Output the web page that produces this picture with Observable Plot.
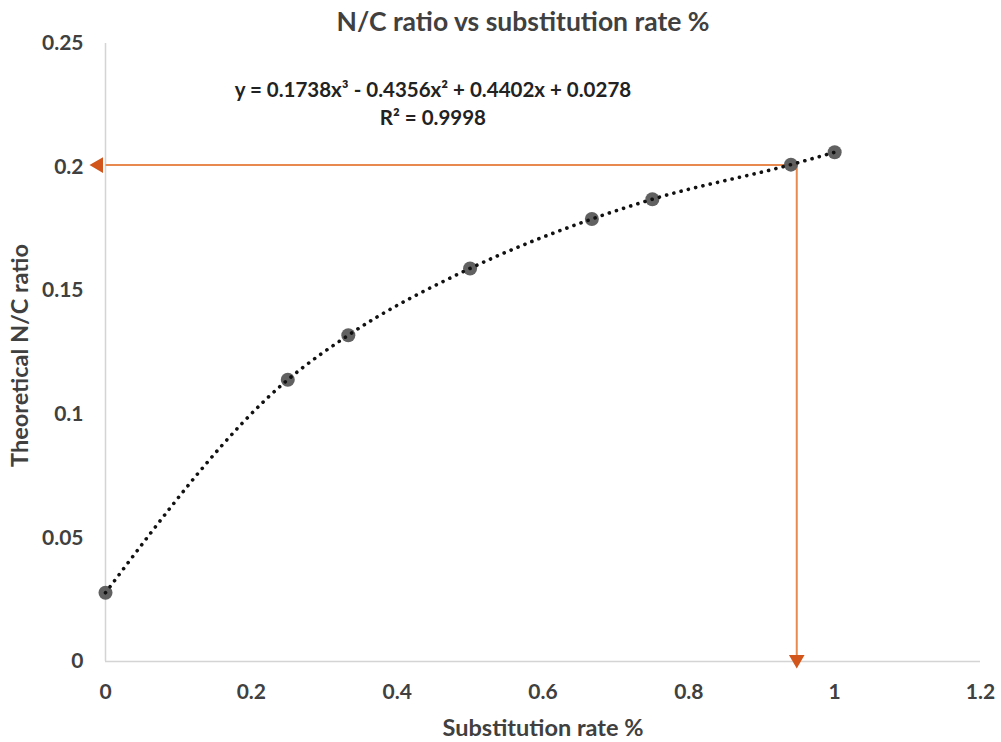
<!DOCTYPE html>
<html>
<head>
<meta charset="utf-8">
<script src="https://cdn.jsdelivr.net/npm/d3@7"></script>
<script src="https://cdn.jsdelivr.net/npm/@observablehq/plot@0.6"></script>
<style>
  html, body { margin: 0; padding: 0; background: #fff; }
  #chart svg { font-family: Lato, "Open Sans", sans-serif; }
</style>
</head>
<body>
<div id="chart"></div>
<script>
// ---- data ----
const substitutionRate = [0, 0.25, 0.333, 0.5, 0.667, 0.75, 0.94, 1];
const ncRatio = [0.0278, 0.114, 0.132, 0.159, 0.179, 0.187, 0.201, 0.206];
const xTicks = [0, 0.2, 0.4, 0.6, 0.8, 1, 1.2];
const yTicks = [0, 0.05, 0.1, 0.15, 0.2, 0.25];
const readRate = [0.948];
const readRatio = [0.2008];
const titleText = "N/C ratio vs substitution rate %";
const equationText = "y = 0.1738x³ - 0.4356x² + 0.4402x + 0.0278";
const r2Text = "R² = 0.9998";
const xLabel = "Substitution rate %";
const yLabel = "Theoretical N/C ratio";

const points = substitutionRate.map((x, i) => ({x, y: ncRatio[i]}));
const hLine = [{x1: 0, x2: readRate[0], y: readRatio[0]}];
const vLine = [{x: readRate[0], y1: readRatio[0], y2: 0}];

const orangeLine = "#E8894F";
const orangeHead = "#D2561B";
const textColor = "#404040";

const chart = Plot.plot({
  width: 1001,
  height: 742,
  marginLeft: 105,
  marginRight: 21,
  marginTop: 43,
  marginBottom: 81,
  style: {fontFamily: "Lato, 'Open Sans', sans-serif", background: "#fff"},
  x: {domain: [0, 1.2], ticks: xTicks, tickSize: 0, tickFormat: d => String(d), label: null, axis: null},
  y: {domain: [0, 0.25], ticks: yTicks, tickSize: 0, tickFormat: d => String(d), label: null, axis: null},
  marks: [
    // axis lines
    Plot.ruleX([0], {stroke: "#d4d4d4", strokeWidth: 1.5}),
    Plot.ruleY([0], {stroke: "#d4d4d4", strokeWidth: 1.5}),
    // tick labels
    Plot.axisX({ticks: xTicks, tickSize: 0, tickPadding: 23, tickFormat: d => String(d), label: null,
      fontSize: 21, fontWeight: "bold", fill: textColor}),
    Plot.axisY({ticks: yTicks, tickSize: 0, tickPadding: 22, tickFormat: d => String(d), label: null,
      fontSize: 21, fontWeight: "bold", fill: textColor}),
    // orange reading lines
    Plot.link(hLine, {x1: "x2", x2: "x1", y1: "y", y2: "y", stroke: orangeLine, strokeWidth: 2}),
    Plot.link(vLine, {x1: "x", x2: "x", y1: "y1", y2: "y2", stroke: orangeLine, strokeWidth: 2}),
    // arrow heads
    Plot.dot(hLine, {x: "x1", y: "y", symbol: "triangle", r: 5.8, rotate: -90, fill: orangeHead, stroke: "none", dx: -7}),
    Plot.dot(vLine, {x: "x", y: "y2", symbol: "triangle", r: 5.8, rotate: 180, fill: orangeHead, stroke: "none", dy: -2}),
    // data points
    Plot.dot(points, {x: "x", y: "y", r: 7, fill: "#595959", fillOpacity: 0.95, stroke: "none"}),
    // dotted trendline through the points
    Plot.line(points, {x: "x", y: "y", curve: "monotone-x", stroke: "#111", strokeWidth: 3.6,
      strokeDasharray: "0.1 7.4", strokeLinecap: "round"}),
    // title
    Plot.text([titleText], {frameAnchor: "top", lineAnchor: "middle", dy: -21, fontSize: 26.5, fontWeight: "bold", fill: textColor, dx: -20}),
    // equation & R²
    Plot.text([equationText], {x: 0.449, y: 0.231, fontSize: 20.5, fontWeight: "bold", fill: "#222"}),
    Plot.text([r2Text], {x: 0.449, y: 0.2198, fontSize: 20.5, fontWeight: "bold", fill: "#222"}),
    // axis titles
    Plot.text([xLabel], {frameAnchor: "bottom", lineAnchor: "middle", dy: 67, fontSize: 23.5, fontWeight: "bold", fill: textColor}),
    Plot.text([yLabel], {frameAnchor: "left", textAnchor: "middle", lineAnchor: "middle", dx: -85, dy: 3, rotate: -90, fontSize: 23.5, fontWeight: "bold", fill: textColor})
  ]
});
document.getElementById("chart").appendChild(chart);
</script>
</body>
</html>
